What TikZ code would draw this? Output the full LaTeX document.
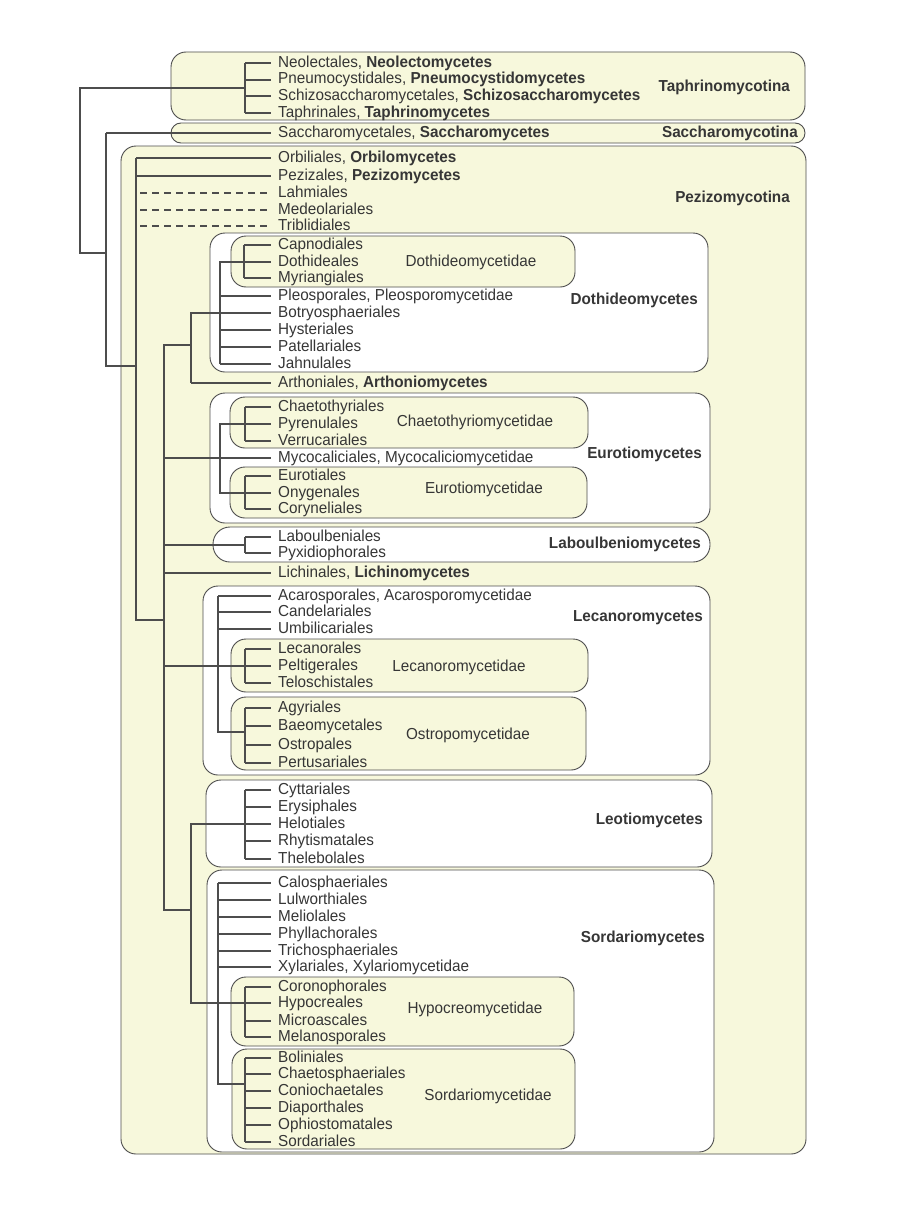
\documentclass[tikz,border=0pt]{standalone}
\usepackage{fontspec}
\setmainfont{Liberation Sans}[FakeStretch=0.96]
\definecolor{yel}{HTML}{F7F8DC}
\definecolor{lc}{HTML}{4D4D4D}
\definecolor{tc}{HTML}{363636}
\newcommand\tfont{\fontsize{15.9}{17}\selectfont}
\tikzset{
 box/.style={draw=lc, line width=0.9pt, rounded corners=15pt},
 ybox/.style={box, fill=yel},
 wbox/.style={box, fill=white},
 tree/.style={draw=lc, line width=1.1pt},
 dtree/.style={draw=lc, line width=1.1pt, dash pattern=on 6.5pt off 5.5pt},
 taxon/.style={anchor=west, inner sep=0pt, text height=11pt, text depth=3pt, text=tc, font=\tfont},
 lab/.style={anchor=east, inner sep=0pt, text height=11pt, text depth=3pt, text=tc, font=\tfont\bfseries},
 sublab/.style={inner sep=0pt, text height=11pt, text depth=3pt, text=tc, font=\tfont},
}
\newcommand\txn[4]{\node[taxon] (#1) at (278,#2) {#3};
  \draw[tree] (#4,0 |- #1.west) -- ([xshift=-7pt]#1.west);}
\begin{document}
\begin{tikzpicture}[x=1pt,y=-1pt]
\useasboundingbox[fill=white] (0,0) rectangle (898,1215);
% boxes
\draw[ybox] (171,52) rectangle (805,120);
\draw[ybox, rounded corners=10pt] (171,123) rectangle (805,143);
\draw[ybox] (121,146) rectangle (806,1154);
\draw[wbox] (210,233) rectangle (708,372);
\draw[ybox] (231,236) rectangle (575,287);
\draw[wbox] (210,393) rectangle (710,523);
\draw[ybox] (230,397) rectangle (588,448);
\draw[ybox] (230,467) rectangle (587,518);
\draw[wbox, rounded corners=17pt] (213,527) rectangle (710,562);
\draw[wbox] (203,586) rectangle (710,775);
\draw[ybox] (231,639) rectangle (588,692);
\draw[ybox] (231,697) rectangle (586,770);
\draw[wbox] (206,780) rectangle (712,867);
\draw[wbox] (207,870) rectangle (714,1152);
\draw[ybox] (231,977) rectangle (574,1046);
\draw[ybox] (232,1049) rectangle (575,1149);

% Taphrinomycotina
\txn{neo}{63}{Neolectales, \textbf{Neolectomycetes}}{245}
\txn{pne}{80}{Pneumocystidales, \textbf{Pneumocystidomycetes}}{245}
\txn{sch}{96}{Schizosaccharomycetales, \textbf{Schizosaccharomycetes}}{245}
\txn{tap}{113}{Taphrinales, \textbf{Taphrinomycetes}}{245}
\draw[tree] (245,0 |- neo.west) -- (245,0 |- tap.west);
\coordinate (jTaph) at (245,88);
\coordinate (jRoot) at (80,253);
\draw[tree] (jTaph) -- (80,88) -- (jRoot) -- (106,253);

% Saccharomycotina
\txn{sac}{133}{Saccharomycetales, \textbf{Saccharomycetes}}{106}
\coordinate (jAsc) at (106,366);
\draw[tree] (106,0 |- sac.west) -- (jAsc) -- (136,366);

% Pezizomycotina
\txn{orb}{158}{Orbiliales, \textbf{Orbilomycetes}}{136}
\txn{pez}{176}{Pezizales, \textbf{Pezizomycetes}}{136}
\node[taxon] (lah) at (278,193) {Lahmiales};
\node[taxon] (med) at (278,210) {Medeolariales};
\node[taxon] (trb) at (278,226) {Triblidiales};
\foreach \n in {lah,med,trb}{\draw[dtree] (140,0 |- \n.west) -- ([xshift=-7pt]\n.west);}
\coordinate (jPez) at (136,620);
\draw[tree] (136,0 |- orb.west) -- (jPez) -- (164,620);

% Dothideomycetes
\txn{cap}{245}{Capnodiales}{244}
\txn{dot}{262}{Dothideales}{244}
\txn{myr}{278}{Myriangiales}{244}
\draw[tree] (244,0 |- cap.west) -- (244,0 |- myr.west);
\txn{ple}{296}{Pleosporales, Pleosporomycetidae}{220}
\txn{bot}{313}{Botryosphaeriales}{220}
\txn{hys}{330}{Hysteriales}{220}
\txn{pat}{347}{Patellariales}{220}
\txn{jah}{364}{Jahnulales}{220}
\draw[tree] (244,0 |- dot.west) -- (220,0 |- dot.west) -- (220,0 |- jah.west);
\txn{art}{383}{Arthoniales, \textbf{Arthoniomycetes}}{191}
\draw[tree] (220,0 |- bot.west) -- (191,0 |- bot.west) -- (191,0 |- art.west);
\coordinate (jDA) at (191,345);
\coordinate (jLeSo) at (191,910);
\draw[tree] (jDA) -- (164,345) -- (164,910) -- (jLeSo);

% Eurotiomycetes
\txn{cht}{407}{Chaetothyriales}{245}
\txn{pyr}{424}{Pyrenulales}{245}
\txn{ver}{441}{Verrucariales}{245}
\draw[tree] (245,0 |- cht.west) -- (245,0 |- ver.west);
\txn{myc}{458}{Mycocaliciales, Mycocaliciomycetidae}{164}
\txn{eur}{476}{Eurotiales}{245}
\txn{ony}{493}{Onygenales}{245}
\txn{cor}{509}{Coryneliales}{245}
\draw[tree] (245,0 |- eur.west) -- (245,0 |- cor.west);
\draw[tree] (245,0 |- pyr.west) -- (220,0 |- pyr.west) -- (220,0 |- ony.west) -- (245,0 |- ony.west);

% Laboulbeniomycetes
\txn{labo}{537}{Laboulbeniales}{245}
\txn{pyx}{553}{Pyxidiophorales}{245}
\draw[tree] (245,0 |- labo.west) -- (245,0 |- pyx.west);
\coordinate (jLab) at (245,545);
\draw[tree] (164,545) -- (jLab);
\txn{lic}{573}{Lichinales, \textbf{Lichinomycetes}}{164}

% Lecanoromycetes
\txn{aca}{596}{Acarosporales, Acarosporomycetidae}{218}
\txn{can}{612}{Candelariales}{218}
\txn{umb}{629}{Umbilicariales}{218}
\txn{lcn}{649}{Lecanorales}{245}
\txn{pel}{666}{Peltigerales}{245}
\txn{tel}{683}{Teloschistales}{245}
\draw[tree] (245,0 |- lcn.west) -- (245,0 |- tel.west);
\draw[tree] (164,0 |- pel.west) -- (245,0 |- pel.west);
\txn{agy}{708}{Agyriales}{245}
\txn{bae}{726}{Baeomycetales}{245}
\txn{ost}{745}{Ostropales}{245}
\txn{per}{763}{Pertusariales}{245}
\draw[tree] (245,0 |- agy.west) -- (245,0 |- per.west);
\coordinate (jOst) at (245,732);
\draw[tree] (218,0 |- aca.west) -- (218,732) -- (jOst);

% Leotiomycetes
\txn{cyt}{790}{Cyttariales}{245}
\txn{ery}{807}{Erysiphales}{245}
\txn{hel}{824}{Helotiales}{245}
\txn{rhy}{841}{Rhytismatales}{245}
\txn{the}{859}{Thelebolales}{245}
\draw[tree] (245,0 |- cyt.west) -- (245,0 |- the.west);
\txn{cal}{883}{Calosphaeriales}{218}
\txn{lul}{900}{Lulworthiales}{218}
\txn{mel}{917}{Meliolales}{218}
\txn{phy}{934}{Phyllachorales}{218}
\txn{tric}{951}{Trichosphaeriales}{218}
\txn{xyl}{967}{Xylariales, Xylariomycetidae}{218}
\txn{coro}{987}{Coronophorales}{245}
\txn{hyp}{1003}{Hypocreales}{245}
\txn{mic}{1021}{Microascales}{245}
\txn{mela}{1037}{Melanosporales}{245}
\draw[tree] (245,0 |- coro.west) -- (245,0 |- mela.west);
\draw[tree] (245,0 |- hel.west) -- (191,0 |- hel.west) -- (191,0 |- hyp.west) -- (245,0 |- hyp.west);
\txn{bol}{1058}{Boliniales}{245}
\txn{chs}{1074}{Chaetosphaeriales}{245}
\txn{con}{1091}{Coniochaetales}{245}
\txn{dia}{1108}{Diaporthales}{245}
\txn{oph}{1125}{Ophiostomatales}{245}
\txn{sor}{1142}{Sordariales}{245}
\draw[tree] (245,0 |- bol.west) -- (245,0 |- sor.west);
\coordinate (jSor) at (245,1084);
\draw[tree] (218,0 |- cal.west) -- (218,1084) -- (jSor);

% labels
\node[lab] (Ltaph) at (790,88) {Taphrinomycotina};
\node[lab] (Lsacc) at (798,133) {Saccharomycotina};
\node[lab] (Lpez) at (790,198) {Pezizomycotina};
\node[lab] (Ldoth) at (698,300) {Dothideomycetes};
\node[lab] (Leur) at (702,454) {Eurotiomycetes};
\node[lab] (Llab) at (701,544) {Laboulbeniomycetes};
\node[lab] (Llec) at (703,617) {Lecanoromycetes};
\node[lab] (Lleo) at (703,820) {Leotiomycetes};
\node[lab] (Lsor) at (705,938) {Sordariomycetes};
\node[sublab] (Sdot) at (471,262) {Dothideomycetidae};
\node[sublab] (Scha) at (475,422) {Chaetothyriomycetidae};
\node[sublab] (Seur) at (484,489) {Eurotiomycetidae};
\node[sublab] (Slec) at (459,667) {Lecanoromycetidae};
\node[sublab] (Sost) at (468,735) {Ostropomycetidae};
\node[sublab] (Shyp) at (475,1009) {Hypocreomycetidae};
\node[sublab] (Ssor) at (488,1096) {Sordariomycetidae};
\end{tikzpicture}
\end{document}
